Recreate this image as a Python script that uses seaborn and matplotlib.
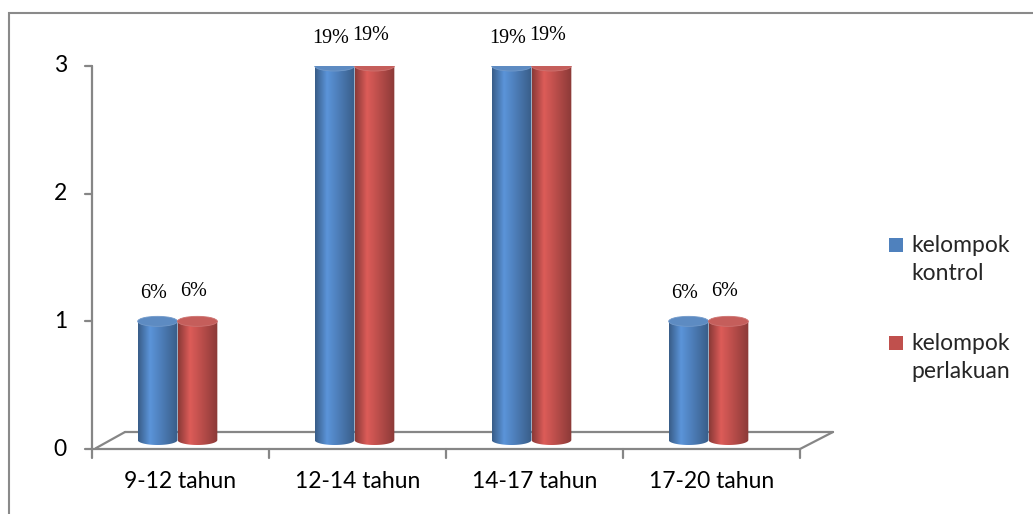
import numpy as np
import pandas as pd
import matplotlib
matplotlib.use("Agg")
import matplotlib.pyplot as plt
import seaborn as sns
from matplotlib.patches import Ellipse, PathPatch, Rectangle
from matplotlib.path import Path
from matplotlib.lines import Line2D

# Data
categories = ["9-12 tahun", "12-14 tahun", "14-17 tahun", "17-20 tahun"]
kontrol = [1, 3, 3, 1]
perlakuan = [1, 3, 3, 1]
label_kontrol = ["6%", "19%", "19%", "6%"]
label_perlakuan = ["6%", "19%", "19%", "6%"]
groups = ["kelompok kontrol", "kelompok perlakuan"]
legend_labels = ["kelompok\nkontrol", "kelompok\nperlakuan"]

BLUE = "#4F81BD"
RED = "#C0504D"
GRID = "#868686"
FS = 16.5

df = pd.DataFrame({
    "usia": categories * 2,
    "jumlah": kontrol + perlakuan,
    "kelompok": [groups[0]] * 4 + [groups[1]] * 4,
})

sns.set_theme(style="white")
plt.rcParams["font.family"] = ["Lato", "DejaVu Sans"]

W, H = 1033, 514
fig = plt.figure(figsize=(W / 100, H / 100), dpi=100)
# plot area: x from 92 to 800 px, value 0 at y=449, value 3 at y=66
ax = fig.add_axes([92 / W, (H - 449) / H, (800 - 92) / W, (449 - 66) / H])

sns.barplot(data=df, x="usia", y="jumlah", hue="kelompok", palette=[BLUE, RED],
            width=0.45, gap=0, saturation=1, legend=False, ax=ax)

ax.set_xlim(-0.5, 3.5)
ax.set_ylim(0, 3)
for s in ax.spines.values():
    s.set_visible(False)
ax.set_xlabel("")
ax.set_ylabel("")

px_x = 4 / (800 - 92)      # data units per pixel (x)
px_y = 3 / (449 - 66)      # data units per pixel (y)

# floor of the 3D plot
dx, dy = 33 * px_x, 17 * px_y
floor_kw = dict(color=GRID, lw=1.6, clip_on=False, zorder=1)
ax.add_line(Line2D([-0.5, 3.5], [0, 0], **floor_kw))
ax.add_line(Line2D([-0.5 + 0.02, -0.5 + dx], [0.005, dy], **floor_kw))
ax.add_line(Line2D([-0.5 + dx, 3.5 + dx], [dy, dy], **floor_kw))
ax.add_line(Line2D([3.5, 3.5 + dx], [0, dy], **floor_kw))
# value axis
ax.add_line(Line2D([-0.5, -0.5], [0, 3], **floor_kw))
for v in [0, 1, 2, 3]:
    ax.add_line(Line2D([-0.5 - 7 * px_x, -0.5], [v, v], **floor_kw))
    ax.text(-0.5 - 25 * px_x, v, str(v), ha="right", va="center",
            fontsize=FS, color="black")
for b in [-0.5, 0.5, 1.5, 2.5, 3.5]:
    ax.add_line(Line2D([b, b], [0, -9 * px_y], **floor_kw))
ax.set_xticks([])
ax.set_yticks([])
for i, c in enumerate(categories):
    ax.text(i, -33 * px_y, c, ha="center", va="center", fontsize=FS,
            color="black")


def shade(base, lo=0.72, hi=1.15):
    rgb = np.array(matplotlib.colors.to_rgb(base))
    t = np.linspace(0, 1, 80)
    f = np.interp(t, [0, 0.3, 0.55, 1.0], [lo, hi, 1.0, lo])
    return np.clip(rgb[None, :] * f[:, None], 0, 1)[None, :, :]


def lighten(base, k):
    rgb = np.array(matplotlib.colors.to_rgb(base))
    return tuple(np.clip(rgb + (1 - rgb) * k, 0, 1))


base_y = 9 * px_y       # bars stand in the middle of the floor
e = 5 * px_y            # half-height of the elliptical caps
shift = 3 * px_x

for container, color, labels, lab_dy in zip(ax.containers, [BLUE, RED],
                                             [label_kontrol, label_perlakuan],
                                             [28, 30]):
    for bar, lab in zip(container, labels):
        x0 = bar.get_x() - shift
        w = bar.get_width()
        x1 = x0 + w
        cx = x0 + w / 2
        top = bar.get_height()
        bar.set_visible(False)
        t = np.linspace(np.pi, 2 * np.pi, 40)
        verts = [(x0, top), (x0, base_y)]
        verts += list(zip(cx + (w / 2) * np.cos(t), base_y + e * np.sin(t)))
        verts += [(x1, top), (x0, top)]
        codes = [Path.MOVETO] + [Path.LINETO] * (len(verts) - 2) + [Path.CLOSEPOLY]
        clip = PathPatch(Path(verts, codes), facecolor="none", edgecolor="none")
        ax.add_patch(clip)
        im = ax.imshow(shade(color), extent=(x0, x1, base_y - e, top),
                       aspect="auto", interpolation="bilinear", zorder=2)
        im.set_clip_path(clip)
        ax.add_patch(Ellipse((cx, top), w, 2 * e, facecolor=lighten(color, 0.08),
                             edgecolor=lighten(color, 0.2), lw=0.6, zorder=3))
        ax.text(cx - 4 * px_x, top + lab_dy * px_y, lab, ha="center", va="center",
                fontsize=14.5, family="Liberation Serif", color="black")

ax.set_xlim(-0.5, 3.5)
ax.set_ylim(0, 3)

# legend
for (lab, col, ytop) in zip(legend_labels, [BLUE, RED], [238, 336]):
    fig.patches.append(Rectangle((889 / W, (H - ytop - 14) / H), 14 / W, 14 / H,
                                 transform=fig.transFigure, facecolor=col,
                                 edgecolor="none"))
    l1, l2 = lab.split("\n")
    fig.text(911 / W, (H - ytop - 7) / H, l1, ha="left", va="center", fontsize=FS)
    fig.text(911 / W, (H - ytop - 35) / H, l2, ha="left", va="center", fontsize=FS)

# chart frame
fig.patches.append(Rectangle((9 / W, -0.05), 1.2, (H - 13) / H + 0.05,
                             transform=fig.transFigure, facecolor="none",
                             edgecolor="#8a8a8a", lw=1.5))

fig.savefig("out.png", dpi=100)
